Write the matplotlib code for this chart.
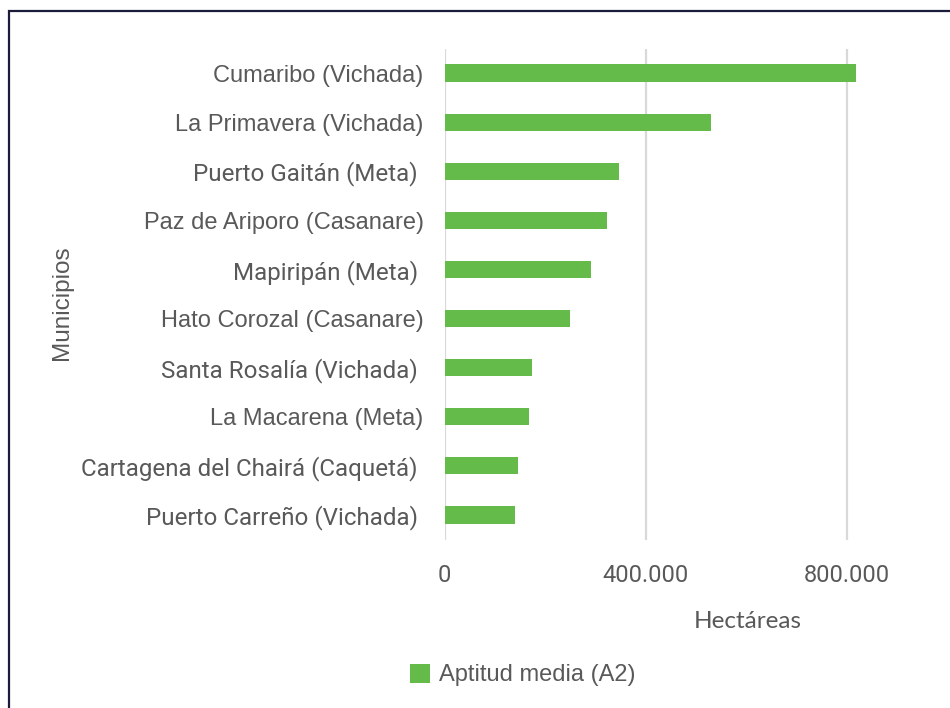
import matplotlib
matplotlib.use("Agg")
import matplotlib.pyplot as plt
from matplotlib.patches import Rectangle
from matplotlib.ticker import FuncFormatter

# Municipalities (top to bottom) and hectares with medium suitability (A2)
municipios = [
    "Cumaribo (Vichada)",
    "La Primavera (Vichada)",
    "Puerto Gaitán (Meta) ",
    "Paz de Ariporo (Casanare)",
    "Mapiripán (Meta) ",
    "Hato Corozal (Casanare)",
    "Santa Rosalía (Vichada) ",
    "La Macarena (Meta)",
    "Cartagena del Chairá (Caquetá) ",
    "Puerto Carreño (Vichada) ",
]
hectareas = [818000, 530000, 347000, 323000, 291000, 250000, 175000, 169000, 147000, 141000]
serie = "Aptitud media (A2)"
x_ticks = [0, 400000, 800000]

GREEN = "#64BB4A"
TEXT = "#595959"
GRID = "#D9D9D9"
ARIAL_LIKE = {"Cumaribo (Vichada)", "La Primavera (Vichada)", "Paz de Ariporo (Casanare)",
              "Hato Corozal (Casanare)", "La Macarena (Meta)"}

fig = plt.figure(figsize=(9.5, 7.08), dpi=100)
fig.patch.set_facecolor("white")

ax = fig.add_axes([444.5 / 950, 1 - 539.5 / 708, (897 - 444.5) / 950, (539.5 - 48.5) / 708])

ypos = list(range(len(municipios)))
ax.barh(ypos, hectareas, height=0.35, color=GREEN, zorder=3, label=serie)
ax.set_ylim(len(municipios) - 0.5, -0.5)
ax.set_xlim(0, 900000)

ax.set_yticks(ypos)
ax.set_yticklabels(municipios)
for lbl in ax.get_yticklabels():
    name = lbl.get_text()
    if name in ARIAL_LIKE:
        lbl.set_fontfamily("Liberation Sans")
        lbl.set_fontsize(17)
    else:
        lbl.set_fontfamily("Roboto")
        lbl.set_fontsize(17.4)
    lbl.set_color(TEXT)

ax.set_xticks(x_ticks)
ax.xaxis.set_major_formatter(FuncFormatter(lambda v, p: f"{int(v):,}".replace(",", ".")))
for lbl in ax.get_xticklabels():
    lbl.set_fontfamily("Roboto")
    lbl.set_fontsize(17)
    lbl.set_color(TEXT)

ax.tick_params(axis="y", length=0, pad=15)
ax.tick_params(axis="x", length=0, pad=18)
ax.grid(axis="x", color=GRID, linewidth=1.6, zorder=0)
for s in ax.spines.values():
    s.set_visible(False)

fig.text(62 / 950, 1 - 303 / 708, "Municipios", rotation=90, ha="center", va="center",
         fontsize=17.5, color=TEXT, family="Liberation Sans")
fig.text(748 / 950, 1 - 622 / 708, "Hectáreas", ha="center", va="center",
         fontsize=17.5, color=TEXT, family="Lato")

leg = fig.legend(loc="center left", bbox_to_anchor=(389 / 950, 1 - 675 / 708), frameon=False,
                 handlelength=0.85, handleheight=0.85, handletextpad=0.35,
                 prop={"family": "Liberation Sans", "size": 17})
for t in leg.get_texts():
    t.set_color(TEXT)

fig.patches.append(Rectangle((8.5 / 950, -0.1), 1.2, 1 - 11.3 / 708 + 0.1,
                             transform=fig.transFigure, fill=False,
                             edgecolor="#1B1B3A", linewidth=1.6))

fig.savefig("out.png", dpi=100, facecolor="white")
